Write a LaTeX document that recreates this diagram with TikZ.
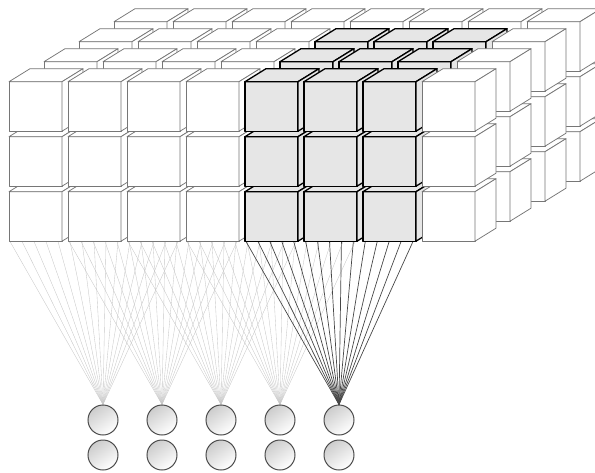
\documentclass[tikz,border=0pt]{standalone}
\usepackage{tikz}
\usetikzlibrary{backgrounds}
\definecolor{gridInk}{HTML}{767676}
\definecolor{blockFill}{HTML}{E6E6E6}

\begin{document}
\begin{tikzpicture}[
  x=1pt, y=-1pt,
  plain/.style={fill=white, draw=gridInk, line width=0.75pt, line join=round},
  picked/.style={fill=blockFill, draw=black, line width=1.3pt, line join=round},
  faint/.style={draw=black!22, line width=0.35pt},
  strong/.style={draw=black!72, line width=0.7pt},
  neuron/.style={circle, draw=black!70, line width=1pt, minimum size=30pt,
                 inner sep=0pt, top color=black!20, bottom color=white,
                 shading angle=35},
]
\useasboundingbox (0,0) rectangle (595,472);
\clip (0,0) rectangle (595,472);

% One box of the grid: column, row, depth layer, style.
% Front face, then the top and the right face pushed back up-right.
\newcommand{\gridcube}[4]{%
  \pgfmathsetmacro{\cubex}{9+59*(#1-1)+35*(#3-1)}
  \pgfmathsetmacro{\cubey}{81.7+55*(#2-1)-20*(#3-1)}
  \draw[#4] (\cubex,\cubey) rectangle ++(53,49.5);
  \draw[#4] (\cubex,\cubey) -- ++(21,-13) -- ++(53,0) -- ++(-21,13) -- cycle;
  \draw[#4] (\cubex+53,\cubey) -- ++(21,-13) -- ++(0,49.5) -- ++(-21,13) -- cycle;}

% ============================ the volume =====================================
% Back layer first, bottom row first, left to right, so nearer boxes cover.
% Columns 5-7 of the three front layers are the picked block.
\foreach \l in {4,3,2,1}
  \foreach \r in {3,2,1}
    \foreach \c in {1,...,8} {
      \pgfmathtruncatemacro{\inblock}{(\c>4)*(\c<8)*(\l<4)}
      \ifnum\inblock=1
        \gridcube{\c}{\r}{\l}{picked}
      \else
        \gridcube{\c}{\r}{\l}{plain}
      \fi
    }

% ============================ the units ======================================
\foreach \k in {1,...,5} {
  \node[neuron] (top\k) at ({103+59*(\k-1)},420) {};
  \node[neuron] (bot\k) at ({103+59*(\k-1)},455) {};
}

% ===================== fan-in from three columns each ========================
\begin{scope}[on background layer]
  \foreach \k in {1,...,4}
    \foreach \i in {0,...,14} {
      \coordinate (s\k-\i) at ({10+59*(\k-1)+\i*168/14},241.5);
      \draw[faint] (s\k-\i) -- (top\k.north);
    }
  % the picked block feeds the last unit
  \foreach \i in {0,...,14} {
    \coordinate (s5-\i) at ({246+\i*167/14},241.5);
    \draw[strong] (s5-\i) -- (top5.north);
  }
\end{scope}
\end{tikzpicture}
\end{document}
